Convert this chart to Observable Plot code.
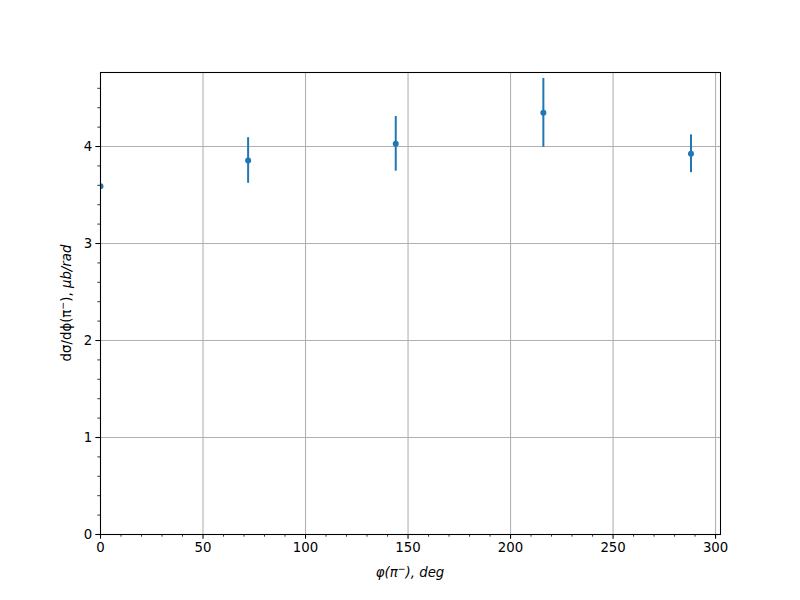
<!DOCTYPE html>
<html><head><meta charset="utf-8">
<script src="https://cdn.jsdelivr.net/npm/d3@7"></script>
<script src="https://cdn.jsdelivr.net/npm/@observablehq/plot@0.6"></script>
<style>body{margin:0;background:#fff} svg{display:block}</style>
</head><body><div id="chart"></div>
<script>
const phi = [0, 72, 144, 216, 288];
const xsec = [3.59, 3.856, 4.028, 4.347, 3.925];
const err = [0, 0.235, 0.282, 0.355, 0.195];
const xTicks = [0, 50, 100, 150, 200, 250, 300];
const yTicks = [0, 1, 2, 3, 4];
const xMinor = d3.range(0, 301, 10).filter(v => v % 50 !== 0);
const yMinor = d3.range(0, 24).map(i => +(i * 0.2).toFixed(1)).filter(v => Math.abs(v - Math.round(v)) > 1e-9);

const data = phi.map((x, i) => ({x, y: xsec[i], lo: xsec[i] - err[i], hi: xsec[i] + err[i]}));
const blue = "#1f77b4";

const plot = Plot.plot({
  width: 800, height: 600,
  marginLeft: 100, marginRight: 80, marginTop: 72, marginBottom: 66,
  style: {fontFamily: "DejaVu Sans", fontSize: "13.3px", background: "#fff", color: "#000"},
  x: {domain: [0, 302.4]},
  y: {domain: [0, 4.763]},
  marks: [
    Plot.ruleX(xTicks, {stroke: "#b0b0b0", strokeWidth: 1.07}),
    Plot.ruleY(yTicks, {stroke: "#b0b0b0", strokeWidth: 1.07}),
    Plot.ruleX(data.filter(d => d.hi > d.lo), {x: "x", y1: "lo", y2: "hi", stroke: blue, strokeWidth: 2, clip: true}),
    Plot.dot(data, {x: "x", y: "y", r: 3, fill: blue, clip: true}),
    Plot.frame({stroke: "#000", strokeWidth: 1.07}),
    Plot.axisX(xTicks, {tickSize: 4.67, tickPadding: 3.5, fontSize: 13.3, label: null, strokeWidth: 1.07, tickFormat: "d"}),
    Plot.axisX(xMinor, {tickSize: 2.67, text: null, label: null, strokeWidth: 0.8}),
    Plot.axisY(yTicks, {tickSize: 4.67, tickPadding: 3.5, fontSize: 13.3, label: null, strokeWidth: 1.07, tickFormat: "d"}),
    Plot.axisY(yMinor, {tickSize: 2.67, text: null, label: null, strokeWidth: 0.8})
  ]
});

const svg = d3.select(plot);
// x label
const xl = svg.append("text")
  .attr("x", 410).attr("y", 577)
  .attr("text-anchor", "middle")
  .attr("font-family", "DejaVu Sans").attr("font-size", 13.3).attr("fill", "#000");
xl.append("tspan").attr("font-style", "italic").text("φ(π");
xl.append("tspan").attr("font-style", "italic").attr("font-size", 9.5).attr("dy", -5).text("−");
xl.append("tspan").attr("dy", 5).attr("font-style", "italic").text("), deg");

// y label
const yl = svg.append("text")
  .attr("transform", "translate(71,303) rotate(-90)")
  .attr("text-anchor", "middle")
  .attr("font-family", "DejaVu Sans").attr("font-size", 13.3).attr("fill", "#000");
yl.append("tspan").text("dσ/dϕ(π");
yl.append("tspan").attr("font-size", 9.5).attr("dy", -5).text("−");
yl.append("tspan").attr("dy", 5).text("), ");
yl.append("tspan").attr("font-style", "italic").text("μb/rad");

document.getElementById("chart").appendChild(plot);
</script>
</body></html>
